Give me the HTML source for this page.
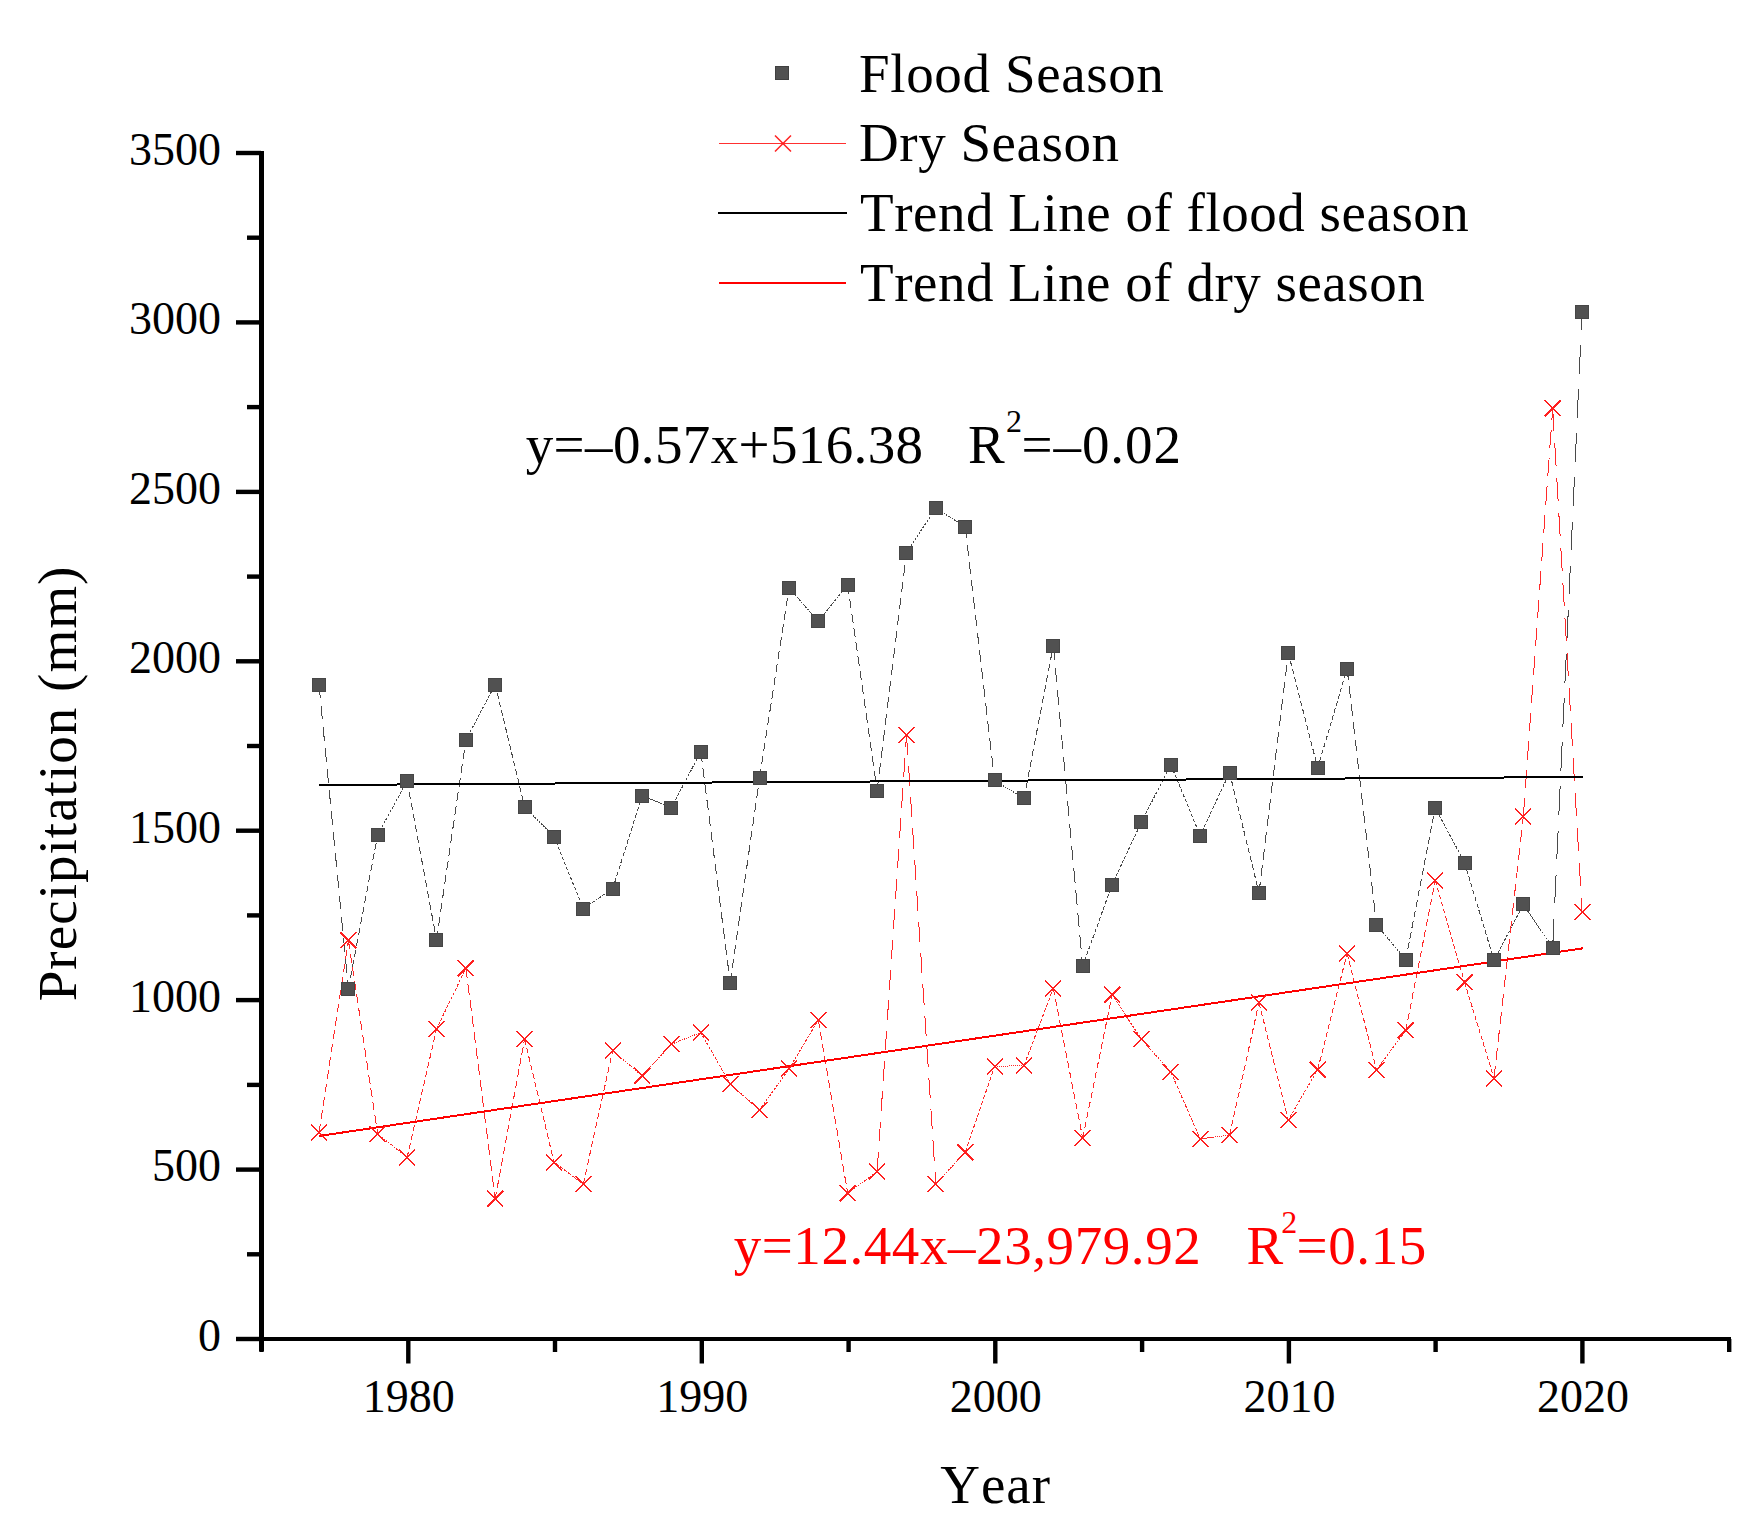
<!DOCTYPE html>
<html><head><meta charset="utf-8"><style>
html,body{margin:0;padding:0;background:#fff;width:1762px;height:1533px;overflow:hidden}
svg{display:block;font-kerning:none}
text{font-kerning:none}
</style></head><body>
<svg width="1762" height="1533" viewBox="0 0 1762 1533">
<rect width="1762" height="1533" fill="#fff"/>
<g stroke="#4a4a4a" stroke-width="1" fill="none" shape-rendering="crispEdges"><line x1="319.0" y1="684.6" x2="348.4" y2="988.6" stroke-dasharray="13.79 7.42"/><line x1="348.4" y1="988.6" x2="377.7" y2="834.8" stroke-dasharray="7.07 3.81"/><line x1="377.7" y1="834.8" x2="407.1" y2="780.8" stroke-dasharray="2.77 1.49"/><line x1="407.1" y1="780.8" x2="436.5" y2="939.8" stroke-dasharray="7.30 3.93"/><line x1="436.5" y1="939.8" x2="465.9" y2="739.8" stroke-dasharray="9.12 4.91"/><line x1="465.9" y1="739.8" x2="495.2" y2="684.6" stroke-dasharray="2.82 1.52"/><line x1="495.2" y1="684.6" x2="524.6" y2="806.7" stroke-dasharray="5.67 3.05"/><line x1="524.6" y1="806.7" x2="554.0" y2="836.7" stroke-dasharray="1.90 1.02"/><line x1="554.0" y1="836.7" x2="583.3" y2="908.8" stroke-dasharray="3.51 1.89"/><line x1="583.3" y1="908.8" x2="612.7" y2="888.8" stroke-dasharray="1.60 0.86"/><line x1="612.7" y1="888.8" x2="642.1" y2="795.7" stroke-dasharray="4.41 2.37"/><line x1="642.1" y1="795.7" x2="671.5" y2="807.5" stroke-dasharray="1.43 0.77"/><line x1="671.5" y1="807.5" x2="700.8" y2="751.8" stroke-dasharray="2.84 1.53"/><line x1="700.8" y1="751.8" x2="730.2" y2="982.7" stroke-dasharray="10.51 5.66"/><line x1="730.2" y1="982.7" x2="759.6" y2="777.7" stroke-dasharray="9.35 5.03"/><line x1="759.6" y1="777.7" x2="789.0" y2="588.0" stroke-dasharray="8.66 4.67"/><line x1="789.0" y1="588.0" x2="818.3" y2="621.3" stroke-dasharray="2.00 1.08"/><line x1="818.3" y1="621.3" x2="847.7" y2="584.9" stroke-dasharray="2.11 1.14"/><line x1="847.7" y1="584.9" x2="877.1" y2="790.6" stroke-dasharray="9.38 5.05"/><line x1="877.1" y1="790.6" x2="906.5" y2="552.8" stroke-dasharray="10.82 5.82"/><line x1="906.5" y1="552.8" x2="935.8" y2="508.0" stroke-dasharray="2.42 1.30"/><line x1="935.8" y1="508.0" x2="965.2" y2="527.0" stroke-dasharray="1.58 0.85"/><line x1="965.2" y1="527.0" x2="994.6" y2="780.5" stroke-dasharray="11.52 6.20"/><line x1="994.6" y1="780.5" x2="1024.0" y2="798.5" stroke-dasharray="1.56 0.84"/><line x1="1024.0" y1="798.5" x2="1053.3" y2="645.5" stroke-dasharray="7.03 3.79"/><line x1="1053.3" y1="645.5" x2="1082.7" y2="966.1" stroke-dasharray="14.53 7.83"/><line x1="1082.7" y1="966.1" x2="1112.1" y2="884.6" stroke-dasharray="3.91 2.11"/><line x1="1112.1" y1="884.6" x2="1141.5" y2="821.9" stroke-dasharray="3.13 1.68"/><line x1="1141.5" y1="821.9" x2="1170.8" y2="764.8" stroke-dasharray="2.90 1.56"/><line x1="1170.8" y1="764.8" x2="1200.2" y2="835.5" stroke-dasharray="3.46 1.86"/><line x1="1200.2" y1="835.5" x2="1229.6" y2="772.6" stroke-dasharray="3.13 1.69"/><line x1="1229.6" y1="772.6" x2="1259.0" y2="892.8" stroke-dasharray="5.59 3.01"/><line x1="1259.0" y1="892.8" x2="1288.3" y2="652.9" stroke-dasharray="10.91 5.87"/><line x1="1288.3" y1="652.9" x2="1317.7" y2="767.9" stroke-dasharray="5.36 2.88"/><line x1="1317.7" y1="767.9" x2="1347.1" y2="668.6" stroke-dasharray="4.67 2.52"/><line x1="1347.1" y1="668.6" x2="1376.5" y2="924.7" stroke-dasharray="11.64 6.27"/><line x1="1376.5" y1="924.7" x2="1405.8" y2="959.7" stroke-dasharray="2.06 1.11"/><line x1="1405.8" y1="959.7" x2="1435.2" y2="807.7" stroke-dasharray="6.99 3.76"/><line x1="1435.2" y1="807.7" x2="1464.6" y2="862.7" stroke-dasharray="2.81 1.52"/><line x1="1464.6" y1="862.7" x2="1494.0" y2="960.4" stroke-dasharray="4.61 2.48"/><line x1="1494.0" y1="960.4" x2="1523.3" y2="904.5" stroke-dasharray="2.85 1.53"/><line x1="1523.3" y1="904.5" x2="1552.7" y2="947.5" stroke-dasharray="2.35 1.27"/><line x1="1552.7" y1="947.5" x2="1582.1" y2="311.9" stroke-dasharray="28.72 15.47"/></g>
<g stroke="#ff2a2a" stroke-width="1" fill="none" shape-rendering="crispEdges"><line x1="319.0" y1="1132.4" x2="348.4" y2="940.4" stroke-dasharray="8.77 4.72"/><line x1="348.4" y1="940.4" x2="377.7" y2="1134.0" stroke-dasharray="8.84 4.76"/><line x1="377.7" y1="1134.0" x2="407.1" y2="1157.5" stroke-dasharray="1.70 0.91"/><line x1="407.1" y1="1157.5" x2="436.5" y2="1029.1" stroke-dasharray="5.95 3.20"/><line x1="436.5" y1="1029.1" x2="465.9" y2="968.1" stroke-dasharray="3.06 1.65"/><line x1="465.9" y1="968.1" x2="495.2" y2="1198.8" stroke-dasharray="10.50 5.65"/><line x1="495.2" y1="1198.8" x2="524.6" y2="1039.0" stroke-dasharray="7.33 3.95"/><line x1="524.6" y1="1039.0" x2="554.0" y2="1162.2" stroke-dasharray="5.72 3.08"/><line x1="554.0" y1="1162.2" x2="583.3" y2="1184.0" stroke-dasharray="1.65 0.89"/><line x1="583.3" y1="1184.0" x2="612.7" y2="1050.6" stroke-dasharray="6.17 3.32"/><line x1="612.7" y1="1050.6" x2="642.1" y2="1075.9" stroke-dasharray="1.75 0.94"/><line x1="642.1" y1="1075.9" x2="671.5" y2="1044.2" stroke-dasharray="1.95 1.05"/><line x1="671.5" y1="1044.2" x2="700.8" y2="1032.5" stroke-dasharray="1.43 0.77"/><line x1="700.8" y1="1032.5" x2="730.2" y2="1084.1" stroke-dasharray="2.68 1.44"/><line x1="730.2" y1="1084.1" x2="759.6" y2="1110.0" stroke-dasharray="1.77 0.95"/><line x1="759.6" y1="1110.0" x2="789.0" y2="1068.9" stroke-dasharray="2.28 1.23"/><line x1="789.0" y1="1068.9" x2="818.3" y2="1020.0" stroke-dasharray="2.57 1.39"/><line x1="818.3" y1="1020.0" x2="847.7" y2="1193.3" stroke-dasharray="7.93 4.27"/><line x1="847.7" y1="1193.3" x2="877.1" y2="1171.7" stroke-dasharray="1.65 0.89"/><line x1="877.1" y1="1171.7" x2="906.5" y2="734.8" stroke-dasharray="19.77 10.64"/><line x1="906.5" y1="734.8" x2="935.8" y2="1183.9" stroke-dasharray="20.32 10.94"/><line x1="935.8" y1="1183.9" x2="965.2" y2="1152.2" stroke-dasharray="1.95 1.05"/><line x1="965.2" y1="1152.2" x2="994.6" y2="1066.5" stroke-dasharray="4.09 2.20"/><line x1="994.6" y1="1066.5" x2="1024.0" y2="1065.4" stroke-dasharray="1.33 0.71"/><line x1="1024.0" y1="1065.4" x2="1053.3" y2="988.4" stroke-dasharray="3.72 2.00"/><line x1="1053.3" y1="988.4" x2="1082.7" y2="1138.1" stroke-dasharray="6.89 3.71"/><line x1="1082.7" y1="1138.1" x2="1112.1" y2="994.9" stroke-dasharray="6.60 3.55"/><line x1="1112.1" y1="994.9" x2="1141.5" y2="1039.2" stroke-dasharray="2.40 1.29"/><line x1="1141.5" y1="1039.2" x2="1170.8" y2="1072.0" stroke-dasharray="1.99 1.07"/><line x1="1170.8" y1="1072.0" x2="1200.2" y2="1138.9" stroke-dasharray="3.30 1.78"/><line x1="1200.2" y1="1138.9" x2="1229.6" y2="1135.2" stroke-dasharray="1.34 0.72"/><line x1="1229.6" y1="1135.2" x2="1259.0" y2="1002.5" stroke-dasharray="6.13 3.30"/><line x1="1259.0" y1="1002.5" x2="1288.3" y2="1119.9" stroke-dasharray="5.46 2.94"/><line x1="1288.3" y1="1119.9" x2="1317.7" y2="1069.7" stroke-dasharray="2.63 1.41"/><line x1="1317.7" y1="1069.7" x2="1347.1" y2="953.4" stroke-dasharray="5.41 2.92"/><line x1="1347.1" y1="953.4" x2="1376.5" y2="1070.1" stroke-dasharray="5.43 2.92"/><line x1="1376.5" y1="1070.1" x2="1405.8" y2="1030.2" stroke-dasharray="2.24 1.20"/><line x1="1405.8" y1="1030.2" x2="1435.2" y2="880.5" stroke-dasharray="6.89 3.71"/><line x1="1435.2" y1="880.5" x2="1464.6" y2="982.4" stroke-dasharray="4.79 2.58"/><line x1="1464.6" y1="982.4" x2="1494.0" y2="1078.3" stroke-dasharray="4.53 2.44"/><line x1="1494.0" y1="1078.3" x2="1523.3" y2="816.4" stroke-dasharray="11.90 6.41"/><line x1="1523.3" y1="816.4" x2="1552.7" y2="408.3" stroke-dasharray="18.47 9.94"/><line x1="1552.7" y1="408.3" x2="1582.1" y2="912.0" stroke-dasharray="22.78 12.26"/></g>
<line x1="319" y1="785" x2="1583" y2="777" stroke="#000" stroke-width="2" shape-rendering="crispEdges"/>
<line x1="319" y1="1136" x2="1583" y2="948.3" stroke="#f00" stroke-width="2" shape-rendering="crispEdges"/>
<g fill="#515151" stroke="#464646" stroke-width="1"><rect x="312.5" y="678.5" width="13" height="13"/><rect x="341.5" y="982.5" width="13" height="13"/><rect x="371.5" y="828.5" width="13" height="13"/><rect x="400.5" y="774.5" width="13" height="13"/><rect x="429.5" y="933.5" width="13" height="13"/><rect x="459.5" y="733.5" width="13" height="13"/><rect x="488.5" y="678.5" width="13" height="13"/><rect x="518.5" y="800.5" width="13" height="13"/><rect x="547.5" y="830.5" width="13" height="13"/><rect x="576.5" y="902.5" width="13" height="13"/><rect x="606.5" y="882.5" width="13" height="13"/><rect x="635.5" y="789.5" width="13" height="13"/><rect x="664.5" y="801.5" width="13" height="13"/><rect x="694.5" y="745.5" width="13" height="13"/><rect x="723.5" y="976.5" width="13" height="13"/><rect x="753.5" y="771.5" width="13" height="13"/><rect x="782.5" y="581.5" width="13" height="13"/><rect x="811.5" y="614.5" width="13" height="13"/><rect x="841.5" y="578.5" width="13" height="13"/><rect x="870.5" y="784.5" width="13" height="13"/><rect x="899.5" y="546.5" width="13" height="13"/><rect x="929.5" y="501.5" width="13" height="13"/><rect x="958.5" y="520.5" width="13" height="13"/><rect x="988.5" y="773.5" width="13" height="13"/><rect x="1017.5" y="791.5" width="13" height="13"/><rect x="1046.5" y="639.5" width="13" height="13"/><rect x="1076.5" y="959.5" width="13" height="13"/><rect x="1105.5" y="878.5" width="13" height="13"/><rect x="1134.5" y="815.5" width="13" height="13"/><rect x="1164.5" y="758.5" width="13" height="13"/><rect x="1193.5" y="829.5" width="13" height="13"/><rect x="1223.5" y="766.5" width="13" height="13"/><rect x="1252.5" y="886.5" width="13" height="13"/><rect x="1281.5" y="646.5" width="13" height="13"/><rect x="1311.5" y="761.5" width="13" height="13"/><rect x="1340.5" y="662.5" width="13" height="13"/><rect x="1369.5" y="918.5" width="13" height="13"/><rect x="1399.5" y="953.5" width="13" height="13"/><rect x="1428.5" y="801.5" width="13" height="13"/><rect x="1458.5" y="856.5" width="13" height="13"/><rect x="1487.5" y="953.5" width="13" height="13"/><rect x="1516.5" y="897.5" width="13" height="13"/><rect x="1546.5" y="941.5" width="13" height="13"/><rect x="1575.5" y="305.5" width="13" height="13"/></g>
<g stroke="#ff2020" stroke-width="1.5" fill="none" shape-rendering="crispEdges"><path d="M311.0 1124.4L327.0 1140.4M311.0 1140.4L327.0 1124.4"/><path d="M340.4 932.4L356.4 948.4M340.4 948.4L356.4 932.4"/><path d="M369.7 1126.0L385.7 1142.0M369.7 1142.0L385.7 1126.0"/><path d="M399.1 1149.5L415.1 1165.5M399.1 1165.5L415.1 1149.5"/><path d="M428.5 1021.1L444.5 1037.1M428.5 1037.1L444.5 1021.1"/><path d="M457.9 960.1L473.9 976.1M457.9 976.1L473.9 960.1"/><path d="M487.2 1190.8L503.2 1206.8M487.2 1206.8L503.2 1190.8"/><path d="M516.6 1031.0L532.6 1047.0M516.6 1047.0L532.6 1031.0"/><path d="M546.0 1154.2L562.0 1170.2M546.0 1170.2L562.0 1154.2"/><path d="M575.3 1176.0L591.3 1192.0M575.3 1192.0L591.3 1176.0"/><path d="M604.7 1042.6L620.7 1058.6M604.7 1058.6L620.7 1042.6"/><path d="M634.1 1067.9L650.1 1083.9M634.1 1083.9L650.1 1067.9"/><path d="M663.5 1036.2L679.5 1052.2M663.5 1052.2L679.5 1036.2"/><path d="M692.8 1024.5L708.8 1040.5M692.8 1040.5L708.8 1024.5"/><path d="M722.2 1076.1L738.2 1092.1M722.2 1092.1L738.2 1076.1"/><path d="M751.6 1102.0L767.6 1118.0M751.6 1118.0L767.6 1102.0"/><path d="M781.0 1060.9L797.0 1076.9M781.0 1076.9L797.0 1060.9"/><path d="M810.3 1012.0L826.3 1028.0M810.3 1028.0L826.3 1012.0"/><path d="M839.7 1185.3L855.7 1201.3M839.7 1201.3L855.7 1185.3"/><path d="M869.1 1163.7L885.1 1179.7M869.1 1179.7L885.1 1163.7"/><path d="M898.5 726.8L914.5 742.8M898.5 742.8L914.5 726.8"/><path d="M927.8 1175.9L943.8 1191.9M927.8 1191.9L943.8 1175.9"/><path d="M957.2 1144.2L973.2 1160.2M957.2 1160.2L973.2 1144.2"/><path d="M986.6 1058.5L1002.6 1074.5M986.6 1074.5L1002.6 1058.5"/><path d="M1016.0 1057.4L1032.0 1073.4M1016.0 1073.4L1032.0 1057.4"/><path d="M1045.3 980.4L1061.3 996.4M1045.3 996.4L1061.3 980.4"/><path d="M1074.7 1130.1L1090.7 1146.1M1074.7 1146.1L1090.7 1130.1"/><path d="M1104.1 986.9L1120.1 1002.9M1104.1 1002.9L1120.1 986.9"/><path d="M1133.5 1031.2L1149.5 1047.2M1133.5 1047.2L1149.5 1031.2"/><path d="M1162.8 1064.0L1178.8 1080.0M1162.8 1080.0L1178.8 1064.0"/><path d="M1192.2 1130.9L1208.2 1146.9M1192.2 1146.9L1208.2 1130.9"/><path d="M1221.6 1127.2L1237.6 1143.2M1221.6 1143.2L1237.6 1127.2"/><path d="M1251.0 994.5L1267.0 1010.5M1251.0 1010.5L1267.0 994.5"/><path d="M1280.3 1111.9L1296.3 1127.9M1280.3 1127.9L1296.3 1111.9"/><path d="M1309.7 1061.7L1325.7 1077.7M1309.7 1077.7L1325.7 1061.7"/><path d="M1339.1 945.4L1355.1 961.4M1339.1 961.4L1355.1 945.4"/><path d="M1368.5 1062.1L1384.5 1078.1M1368.5 1078.1L1384.5 1062.1"/><path d="M1397.8 1022.2L1413.8 1038.2M1397.8 1038.2L1413.8 1022.2"/><path d="M1427.2 872.5L1443.2 888.5M1427.2 888.5L1443.2 872.5"/><path d="M1456.6 974.4L1472.6 990.4M1456.6 990.4L1472.6 974.4"/><path d="M1486.0 1070.3L1502.0 1086.3M1486.0 1086.3L1502.0 1070.3"/><path d="M1515.3 808.4L1531.3 824.4M1515.3 824.4L1531.3 808.4"/><path d="M1544.7 400.3L1560.7 416.3M1544.7 416.3L1560.7 400.3"/><path d="M1574.1 904.0L1590.1 920.0M1574.1 920.0L1590.1 904.0"/></g>
<g fill="#000">
<rect x="259" y="151" width="5" height="1200"/>
<rect x="259" y="1337" width="1472" height="4"/>
<rect x="236" y="1336.8" width="25" height="4.4"/>
<rect x="247" y="1252.1" width="14" height="4.4"/>
<rect x="236" y="1167.4" width="25" height="4.4"/>
<rect x="247" y="1082.7" width="14" height="4.4"/>
<rect x="236" y="997.9" width="25" height="4.4"/>
<rect x="247" y="913.2" width="14" height="4.4"/>
<rect x="236" y="828.5" width="25" height="4.4"/>
<rect x="247" y="743.8" width="14" height="4.4"/>
<rect x="236" y="659.1" width="25" height="4.4"/>
<rect x="247" y="574.4" width="14" height="4.4"/>
<rect x="236" y="489.7" width="25" height="4.4"/>
<rect x="247" y="404.9" width="14" height="4.4"/>
<rect x="236" y="320.2" width="25" height="4.4"/>
<rect x="247" y="235.5" width="14" height="4.4"/>
<rect x="236" y="150.8" width="25" height="4.4"/>
<rect x="259.3" y="1339" width="4.4" height="13"/>
<rect x="406.1" y="1339" width="4.4" height="24.5"/>
<rect x="552.8" y="1339" width="4.4" height="13"/>
<rect x="699.6" y="1339" width="4.4" height="24.5"/>
<rect x="846.4" y="1339" width="4.4" height="13"/>
<rect x="993.1" y="1339" width="4.4" height="24.5"/>
<rect x="1139.9" y="1339" width="4.4" height="13"/>
<rect x="1286.7" y="1339" width="4.4" height="24.5"/>
<rect x="1433.4" y="1339" width="4.4" height="13"/>
<rect x="1580.2" y="1339" width="4.4" height="24.5"/>
<rect x="1727.0" y="1339" width="4.4" height="13"/>
</g>
<g font-family="Liberation Serif, Times New Roman, serif" font-size="46" fill="#000" text-anchor="end">
<text x="221" y="1350.8">0</text>
<text x="221" y="1181.4">500</text>
<text x="221" y="1011.9">1000</text>
<text x="221" y="842.5">1500</text>
<text x="221" y="673.1">2000</text>
<text x="221" y="503.7">2500</text>
<text x="221" y="334.2">3000</text>
<text x="221" y="164.8">3500</text>
</g>
<g font-family="Liberation Serif, Times New Roman, serif" font-size="46" fill="#000" text-anchor="middle">
<text x="408.8" y="1412">1980</text>
<text x="702.3" y="1412">1990</text>
<text x="995.8" y="1412">2000</text>
<text x="1289.4" y="1412">2010</text>
<text x="1582.9" y="1412">2020</text>
</g>
<g font-family="Liberation Serif, Times New Roman, serif"><text x="940.28" y="1503" font-size="55" letter-spacing="0.948" >Year</text></g>
<g font-family="Liberation Serif, Times New Roman, serif" transform="translate(76 0) rotate(-90)"><text x="-1001.28" y="0" font-size="55" letter-spacing="1.042" >Precipitation (mm)</text></g>
<rect x="775.5" y="66.5" width="13" height="13" fill="#515151" stroke="#404040" stroke-width="1"/>
<line x1="719" y1="143.5" x2="846" y2="143.5" stroke="#ff3030" stroke-width="1.2"/>
<path d="M775 135.5L791 151.5M775 151.5L791 135.5" stroke="#ff2020" stroke-width="1.5" fill="none"/>
<line x1="718" y1="213" x2="847" y2="213" stroke="#000" stroke-width="2"/>
<line x1="719" y1="283" x2="846" y2="283" stroke="#f00" stroke-width="2"/>
<g font-family="Liberation Serif, Times New Roman, serif" font-size="56" fill="#000">
<text x="859.12" y="91.8" font-size="55" letter-spacing="0.617" >Flood Season</text>
<text x="859.12" y="160.7" font-size="55" letter-spacing="0.524" >Dry Season</text>
<text x="860.11" y="230.8" font-size="55" letter-spacing="0.523" >Trend Line of flood season</text>
<text x="860.11" y="300.9" font-size="55" letter-spacing="0.507" >Trend Line of dry season</text>
</g>
<g font-family="Liberation Serif, Times New Roman, serif" font-size="56" fill="#000">
<text x="525.73" y="462.7" font-size="55" letter-spacing="0.381" >y=–0.57x+516.38</text>
<text x="967.92" y="462.7" font-size="55" letter-spacing="0.000" >R</text>
<text x="1005.89" y="431.5" font-size="32" letter-spacing="0.000" >2</text>
<text x="1021.56" y="462.7" font-size="55" letter-spacing="0.921" >=–0.02</text>
</g>
<g font-family="Liberation Serif, Times New Roman, serif" font-size="56" fill="#f00">
<text x="733.63" y="1264.2" font-size="55" letter-spacing="0.579" >y=12.44x–23,979.92</text>
<text x="1246.62" y="1264.2" font-size="55" letter-spacing="0.000" >R</text>
<text x="1281.29" y="1232.5" font-size="32" letter-spacing="0.000" >2</text>
<text x="1296.46" y="1264.2" font-size="55" letter-spacing="0.655" >=0.15</text>
</g>
</svg>
</body></html>
